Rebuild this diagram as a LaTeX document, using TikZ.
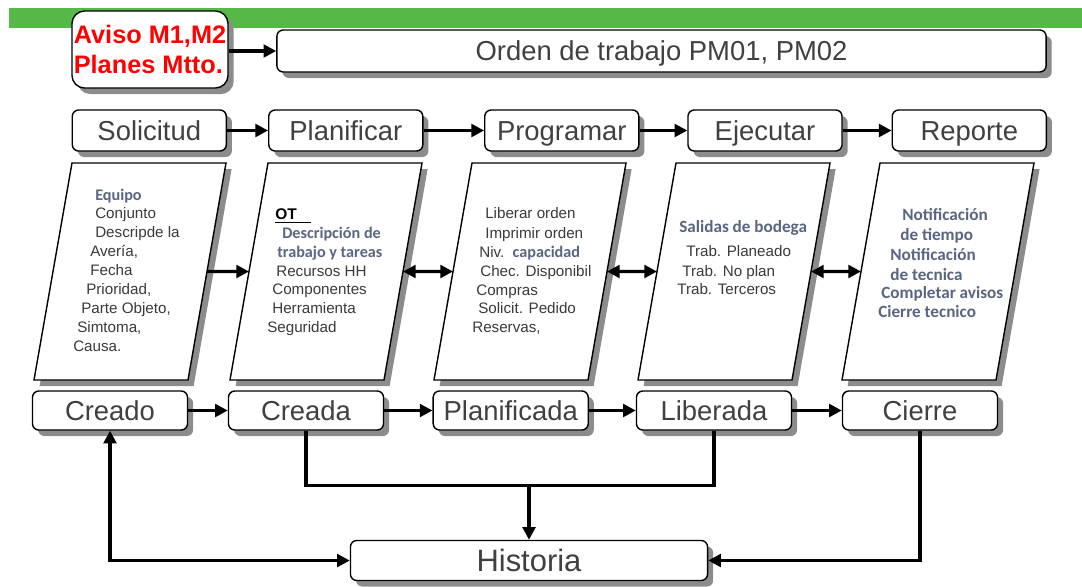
\documentclass[tikz,border=0pt]{standalone}
\usepackage{fontspec}
\setmainfont{Liberation Sans}
\newfontfamily\calib{Carlito}
\usetikzlibrary{arrows.meta,shadows,calc}
\definecolor{verde}{HTML}{56B947}
\definecolor{sombra}{HTML}{8C8C8C}
\definecolor{gristx}{HTML}{3A3A3A}
\definecolor{grisc}{HTML}{404040}
\definecolor{azulgr}{HTML}{5A6483}
\definecolor{rojo}{HTML}{FF0000}
\newcommand{\fcal}{\calib\bfseries\fontsize{11.5}{13}\selectfont}
\newcommand{\fcalg}{\calib\bfseries\fontsize{12.2}{14}\selectfont}
\tikzset{
  sombreado/.style={drop shadow={shadow xshift=4pt,shadow yshift=-4.3pt,fill=sombra,opacity=1}},
  marco/.style={draw=black,fill=white,line width=1pt,rounded corners=4.5pt,inner sep=0pt,sombreado},
  caja/.style={marco,text=grisc,font=\fontsize{19.5}{22}\selectfont,text height=15pt,text depth=1pt},
  paral/.style={draw=black,fill=white,line width=1pt,sombreado},
  flecha/.style={-{Triangle[length=9pt,width=9pt]},line width=2.4pt},
  dflecha/.style={{Triangle[length=9pt,width=9pt]}-{Triangle[length=9pt,width=9pt]},line width=2.4pt},
  linea/.style={line width=2.4pt},
  txa/.style={anchor=mid west,inner sep=0pt,text=gristx,font=\fontsize{10.8}{12}\selectfont},
  txc/.style={anchor=mid west,inner sep=0pt,text=azulgr,font=\fcal},
}
\begin{document}
\begin{tikzpicture}[x=0.025cm,y=-0.025cm]
  \useasboundingbox (0,0) rectangle (1082,586);
  \fill[verde] (9,8) rectangle (1082,27.5);
  % encabezado
  \node[marco,rounded corners=9pt,minimum width=3.9cm,minimum height=1.925cm,text=rojo,
    font=\bfseries\fontsize{18}{21}\selectfont,align=left] (aviso) at (150,49.5) {Aviso M1,M2\\Planes Mtto.};
  \node[caja,minimum width=19.225cm,minimum height=1.05cm] (orden) at (661.5,51) {Orden de trabajo PM01, PM02};
  \draw[flecha] (aviso.east |- orden.west) -- (orden.west);
  % fases
  \node[caja,minimum width=3.85cm,minimum height=1.025cm] (sol) at (149.3,130.5) {Solicitud};
  \node[caja,minimum width=3.85cm,minimum height=1.025cm] (plan) at (345.8,130.5) {Planificar};
  \node[caja,minimum width=3.85cm,minimum height=1.025cm] (prog) at (561.8,130.5) {Programar};
  \node[caja,minimum width=3.85cm,minimum height=1.025cm] (ejec) at (765,130.5) {Ejecutar};
  \node[caja,minimum width=3.85cm,minimum height=1.025cm] (rep) at (969.3,130.5) {Reporte};
  \draw[flecha] (sol) -- (plan);
  \draw[flecha] (plan) -- (prog);
  \draw[flecha] (prog) -- (ejec);
  \draw[flecha] (ejec) -- (rep);
  % actividades
  \draw[paral] (72,163) -- (226,163) -- coordinate (p1e) (188,380) -- (34,380) -- coordinate (p1w) cycle;
  \draw[paral] (268,163) -- (422,163) -- coordinate (p2e) (384,380) -- (230,380) -- coordinate (p2w) cycle;
  \draw[paral] (472,163) -- (626,163) -- coordinate (p3e) (588,380) -- (434,380) -- coordinate (p3w) cycle;
  \draw[paral] (676,163) -- (830,163) -- coordinate (p4e) (792,380) -- (638,380) -- coordinate (p4w) cycle;
  \draw[paral] (880,163) -- (1034,163) -- coordinate (p5e) (996,380) -- (842,380) -- coordinate (p5w) cycle;
  \draw[flecha] (p1e) -- (p2w);
  \draw[dflecha] (p2e) -- (p3w);
  \draw[dflecha] (p3e) -- (p4w);
  \draw[dflecha] (p4e) -- (p5w);
  \node[txc] (a1) at (95,197) {Equipo};
  \node[txa] (a2) at (95,215) {Conjunto};
  \node[txa] (a3) at (95,233.5) {Descripde la};
  \node[txa] (a4) at (90,252.5) {Avería,};
  \node[txa] (a5) at (90,271.5) {Fecha};
  \node[txa] (a6) at (86,290.5) {Prioridad,};
  \node[txa] (a7) at (81,309.5) {Parte Objeto,};
  \node[txa] (a8) at (77,328.5) {Simtoma,};
  \node[txa] (a9) at (73,348) {Causa.};
  \node[txa,text=black,font=\bfseries\fontsize{11}{12}\selectfont] (b1) at (275,216) {\underline{OT\hspace{0.9em}}};
  \node[txc] (b2) at (282,235) {Descripción de};
  \node[txc] (b3) at (277,253.5) {trabajo y tareas};
  \node[txa] (b4) at (276,272.5) {Recursos HH};
  \node[txa] (b5) at (272,291) {Componentes};
  \node[txa] (b6) at (272,310) {Herramienta};
  \node[txa] (b7) at (267,328.5) {Seguridad};
  \node[txa] (c1) at (485,215) {Liberar orden};
  \node[txa] (c2) at (485,235) {Imprimir orden};
  \node[txa] (c3) at (479,253.5) {Niv.\hspace{0.55em}{\fcal\color{azulgr}capacidad}};
  \node[txa] (c4) at (480,272.5) {Chec. Disponibil};
  \node[txa] (c5) at (476,291.5) {Compras};
  \node[txa] (c6) at (478,310) {Solicit. Pedido};
  \node[txa] (c7) at (472,328.5) {Reservas,};
  \node[txc,font=\fcalg] (d1) at (679,229) {Salidas de bodega};
  \node[txa] (d2) at (686,253) {Trab. Planeado};
  \node[txa] (d3) at (682,272.5) {Trab. No plan};
  \node[txa] (d4) at (677,291) {Trab. Terceros};
  \node[txc,font=\fcalg] (e1) at (902,217) {Notificación};
  \node[txc,font=\fcalg] (e2) at (900,237) {de tiempo};
  \node[txc,font=\fcalg] (e3) at (890,256.5) {Notificación};
  \node[txc,font=\fcalg] (e4) at (890,276.5) {de tecnica};
  \node[txc,font=\fcalg] (e5) at (881,295) {Completar avisos};
  \node[txc,font=\fcalg] (e6) at (878,314) {Cierre tecnico};
  % estados
  \node[caja,minimum width=3.875cm,minimum height=0.975cm] (creado) at (110,410.5) {Creado};
  \node[caja,minimum width=3.875cm,minimum height=0.975cm] (creada) at (306,410.5) {Creada};
  \node[caja,minimum width=3.875cm,minimum height=0.975cm] (planif) at (510.7,410.5) {Planificada};
  \node[caja,minimum width=3.875cm,minimum height=0.975cm] (liber) at (714,410.5) {Liberada};
  \node[caja,minimum width=3.875cm,minimum height=0.975cm] (cierre) at (920,410.5) {Cierre};
  \draw[flecha] (creado) -- (creada);
  \draw[flecha] (creada) -- (planif);
  \draw[flecha] (planif) -- (liber);
  \draw[flecha] (liber) -- (cierre);
  \node[caja,minimum width=8.925cm,minimum height=1cm,font=\fontsize{22}{25}\selectfont,
    text height=16.75pt] (hist) at (529,560.5) {Historia};
  \coordinate (junta) at ($(hist.north)+(0,-54)$);
  \draw[linea] (creada.south) |- (junta) -| (liber.south);
  \draw[flecha] (junta) -- (hist.north);
  \draw[dflecha] (creado.south) |- (hist.west);
  \draw[flecha] (cierre.south) |- (hist.east);
\end{tikzpicture}
\end{document}
